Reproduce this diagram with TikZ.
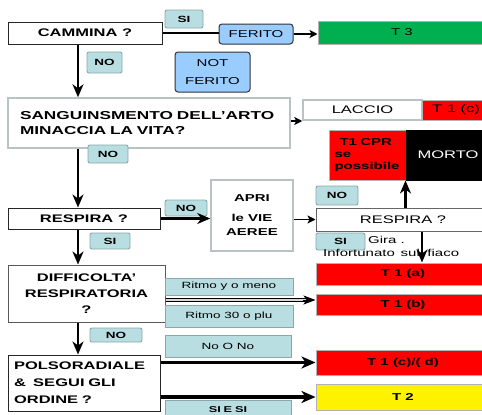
\documentclass[tikz,border=0pt]{standalone}
\usepackage{fontspec}
\setmainfont{Liberation Sans}[FakeStretch=1.5]
\usetikzlibrary{arrows.meta}
\definecolor{labf}{HTML}{B8DEE2}
\definecolor{labd}{HTML}{8AA8AB}
\definecolor{ferf}{HTML}{99CCFF}
\definecolor{grn}{HTML}{00B050}
\definecolor{gbord}{HTML}{B8C4C4}
\tikzset{
  qbox/.style={draw=black!85, line width=1pt, fill=white, inner sep=0pt, font=\bfseries\fontsize{11}{13}\selectfont},
  gbox/.style={draw=gbord, line width=1.5pt, fill=white, inner sep=0pt},
  lab/.style={draw=labd, fill=labf, rounded corners=2pt, line width=0.9pt, inner sep=0pt, font=\bfseries\fontsize{9}{10}\selectfont},
  rlab/.style={draw=labd, fill=labf, line width=0.9pt, inner sep=0pt, font=\fontsize{9}{10}\selectfont},
  ferbox/.style={draw=black!80, fill=ferf, rounded corners=3pt, line width=1pt, inner sep=0pt, font=\fontsize{10}{12}\selectfont},
  tbox/.style={draw=gray!60, line width=1pt, inner sep=0pt, font=\bfseries\fontsize{10}{12}\selectfont},
  arr/.style={line width=2.6pt, -{Stealth[length=13pt,width=11pt,inset=4pt]}},
  harr/.style={line width=3.5pt, -{Stealth[length=14pt,width=12pt,inset=4pt]}},
  sarr/.style={line width=1.8pt, -{Stealth[length=8pt,width=8pt,inset=2pt]}},
  plain/.style={inner sep=0pt, font=\fontsize{10}{12}\selectfont}
}
\begin{document}
\begin{tikzpicture}[x=1pt,y=-1pt]
\useasboundingbox (0,0) rectangle (482,415);
\clip (0,0) rectangle (482,415);
\fill[white] (0,0) rectangle (482,415);
\coordinate (colx) at (78,0);
\coordinate (y121) at (0,121);
\coordinate (y300) at (0,300);

% left column
\node[qbox, minimum width=154pt, minimum height=22pt] (cam) at (85,33) {CAMMINA ?};
\node[gbox, minimum width=282pt, minimum height=50pt, text width=258pt, inner xsep=12pt, align=left,
      font=\bfseries\fontsize{11.5}{15}\selectfont] (sang) at (149,123) {SANGUINSMENTO DELL'ARTO\\MINACCIA LA VITA?};
\node[qbox, minimum width=152pt, minimum height=21pt] (resp1) at (84,218.5) {RESPIRA ?};
\node[qbox, draw=black!65, minimum width=157pt, minimum height=57pt, align=center,
      font=\bfseries\fontsize{11}{16}\selectfont] (diff) at (86.5,293.5) {DIFFICOLTA'\\RESPIRATORIA\\?};
\node[qbox, minimum width=152pt, minimum height=56pt, text width=140pt, inner xsep=6pt, align=left,
      font=\bfseries\fontsize{11}{17}\selectfont] (polso) at (84,383) {POLSORADIALE\\\&~ SEGUI GLI\\ORDINE ?};

% small labels
\node[lab, minimum width=38pt, minimum height=18pt] (si1) at (184,19) {SI};
\node[lab, minimum width=35pt, minimum height=21pt] (no1) at (104.5,62.5) {NO};
\node[lab, minimum width=40pt, minimum height=18pt] (no3) at (108,154) {NO};
\node[lab, minimum width=42pt, minimum height=16pt] (no4) at (186,208) {NO};
\node[lab, minimum width=40pt, minimum height=16pt] (si3) at (110,241) {SI};
\node[lab, minimum width=52pt, minimum height=14pt] (no5) at (116,335) {NO};
\node[lab, minimum width=42pt, minimum height=19pt] (no2) at (337,195.5) {NO};
\node[lab, minimum width=49pt, minimum height=17pt] (si2) at (340.5,241.5) {SI};

% FERITO
\node[ferbox, minimum width=74pt, minimum height=20pt] (fer) at (256,34) {FERITO};
\node[ferbox, minimum width=75pt, minimum height=40pt, align=center, font=\fontsize{10}{18}\selectfont] (nfer) at (212.5,72) {NOT\\FERITO};

% APRI
\node[gbox, minimum width=82pt, minimum height=71pt, align=center, font=\bfseries\fontsize{10}{14}\selectfont] (apri) at (252,215.5) {APRI\\[6pt]le VIE\\AEREE};

% middle labels
\node[rlab, minimum width=128pt, minimum height=17pt] (ry) at (229,286.5) {Ritmo y o meno};
\node[rlab, minimum width=128pt, minimum height=22pt] (r30) at (229,316) {Ritmo 30 o plu};
\node[rlab, minimum width=126pt, minimum height=22pt] (nono) at (228,346) {No O No};
\node[rlab, minimum width=126pt, minimum height=18pt, font=\bfseries\fontsize{8.5}{10}\selectfont] (siesi) at (228,409.5) {SI\,\,E\,\,SI};

% right column
\node[tbox, fill=grn, minimum width=168pt, minimum height=23pt, font=\fontsize{10}{12}\selectfont] (t3) at (402,32.5) {T 3};
\node[gbox, minimum width=119pt, minimum height=20pt, font=\fontsize{11}{13}\selectfont] (lac) at (362.5,110) {LACCIO};
\node[tbox, fill=red, minimum width=68pt, minimum height=20pt, font=\fontsize{11}{13}\selectfont] (t1c) at (456,110) {T 1 (c)};
\node[tbox, fill=red, minimum width=77pt, minimum height=50pt, text width=66pt, inner xsep=5pt, align=left,
      font=\bfseries\fontsize{10}{12}\selectfont] (cpr) at (367.5,155) {\hspace*{5pt}T1 CPR\\se\\possibile};
\node[tbox, fill=black, draw=black, minimum width=84pt, minimum height=50pt, text=white,
      font=\fontsize{11}{13}\selectfont] (mort) at (448,155) {MORTO};
\node[qbox, draw=black!60, minimum width=174pt, minimum height=23pt, font=\fontsize{11}{13}\selectfont] (resp2) at (403,219.5) {RESPIRA ?};
\node[plain, anchor=west] (gira) at (368,240) {Gira .};
\node[plain, anchor=west] (inf) at (323,253) {Infortunato\, sul\,\, fiaco};
\node[tbox, fill=red, minimum width=174pt, minimum height=22pt] (t1a) at (403,274) {T 1 (a)};
\node[tbox, fill=red, minimum width=174pt, minimum height=21pt] (t1b) at (403,304.5) {T 1 (b)};
\node[tbox, fill=red, minimum width=174pt, minimum height=25pt] (t1cd) at (403,362.5) {T 1 (c)/( d)};
\node[tbox, fill=yellow, minimum width=174pt, minimum height=26pt] (t2) at (403,397) {T 2};

% connectors
\draw[line width=2.6pt] (cam.east) -- (cam.east -| fer.west);
\draw[sarr, line width=2.4pt] (fer.east) -- (fer.east -| t3.west);
\draw[arr] (cam.south -| colx) -- (sang.north -| colx);
\draw[sarr] (sang.east |- y121) -- (lac.west |- y121);
\draw[arr] (sang.south -| colx) -- (resp1.north -| colx);
\draw[arr] (resp1.east) -- (resp1.east -| apri.west);
\draw[sarr] (apri.east |- resp2.west) -- (resp2.west);
\draw[arr] (resp2.north -| mort.west) -- (mort.south west);
\draw[arr] ([xshift=19pt]resp2.south) -- ([xshift=19pt]resp2.south |- t1a.north);
\draw[arr] (resp1.south -| colx) -- (diff.north -| colx);
\draw[black, line width=0.9pt, double=gray!30, double distance=1.6pt] (diff.east |- y300) -- ([xshift=-10pt]t1b.west |- y300);
\draw[-{Stealth[length=12pt,width=9pt,inset=3pt]}, line width=1pt] ([xshift=-13pt]t1b.west |- y300) -- (t1b.west |- y300);
\draw[arr] (diff.south -| colx) -- (polso.north -| colx);
\draw[harr] (polso.east |- t1cd.west) -- (t1cd.west);
\draw[harr] (polso.east |- t2.west) -- (t2.west);
\end{tikzpicture}
\end{document}
